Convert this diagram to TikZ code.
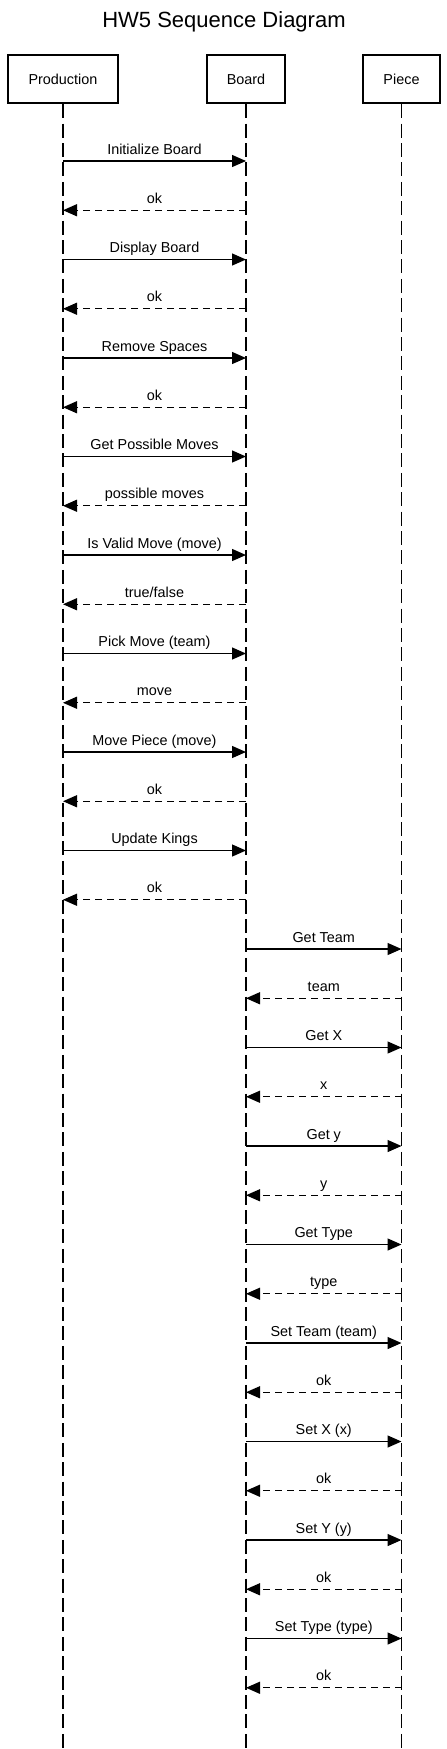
\documentclass[tikz,border=0pt]{standalone}
\usepackage{fontspec}
\setmainfont{Liberation Sans}
\usetikzlibrary{arrows.meta}
\newcommand{\lblfont}{\fontsize{14.4}{17}\selectfont}
\begin{document}
\begin{tikzpicture}[x=1pt,y=-1pt,
  actor/.style={draw, line width=2.5pt, minimum width=#1, minimum height=48pt, inner sep=0pt, font=\lblfont},
  lifeline/.style={line width=1.8pt, dash pattern=on 14pt off 5.4pt},
  call/.style={line width=1.3pt, -{Triangle[length=14pt,width=12pt]}},
  reply/.style={line width=1.3pt, dash pattern=on 7pt off 5pt, -{Triangle[length=14pt,width=12pt]}},
  lab/.style={font=\lblfont, anchor=base, yshift=7pt, inner sep=0pt}]
\useasboundingbox (0,0) rectangle (447,1749);
\node[font=\fontsize{22}{26}\selectfont, anchor=base] (title) at (224,27) {HW5 Sequence Diagram};
\node[actor=110pt] (P) at (63,79) {Production};
\node[actor=78pt] (B) at (246,79) {Board};
\node[actor=77pt] (C) at (401.5,79) {Piece};
\coordinate (bot) at (0,1749);
\draw[lifeline] (P.south) -- (P |- bot);
\draw[lifeline] (B.south) -- (B |- bot);
\draw[lifeline] (C.south) -- (C |- bot);
\foreach \i in {0,...,31}{
  \path (0,{161+49.25*\i}) coordinate (y\i);
  \coordinate (P\i) at (P |- y\i);
  \coordinate (B\i) at (B |- y\i);
  \coordinate (C\i) at (C |- y\i);
}
\foreach \i/\a/\b/\s/\t in {
  0/P/B/call/Initialize Board,
  1/B/P/reply/ok,
  2/P/B/call/Display Board,
  3/B/P/reply/ok,
  4/P/B/call/Remove Spaces,
  5/B/P/reply/ok,
  6/P/B/call/Get Possible Moves,
  7/B/P/reply/possible moves,
  8/P/B/call/Is Valid Move (move),
  9/B/P/reply/true\slash false,
  10/P/B/call/Pick Move (team),
  11/B/P/reply/move,
  12/P/B/call/Move Piece (move),
  13/B/P/reply/ok,
  14/P/B/call/Update Kings,
  15/B/P/reply/ok,
  16/B/C/call/Get Team,
  17/C/B/reply/team,
  18/B/C/call/Get X,
  19/C/B/reply/x,
  20/B/C/call/Get y,
  21/C/B/reply/y,
  22/B/C/call/Get Type,
  23/C/B/reply/type,
  24/B/C/call/Set Team (team),
  25/C/B/reply/ok,
  26/B/C/call/Set X (x),
  27/C/B/reply/ok,
  28/B/C/call/Set Y (y),
  29/C/B/reply/ok,
  30/B/C/call/Set Type (type),
  31/C/B/reply/ok}{
  \draw[\s] (\a\i) -- (\b\i) node[lab, midway] (m\i) {\t};
}
\end{tikzpicture}
\end{document}
